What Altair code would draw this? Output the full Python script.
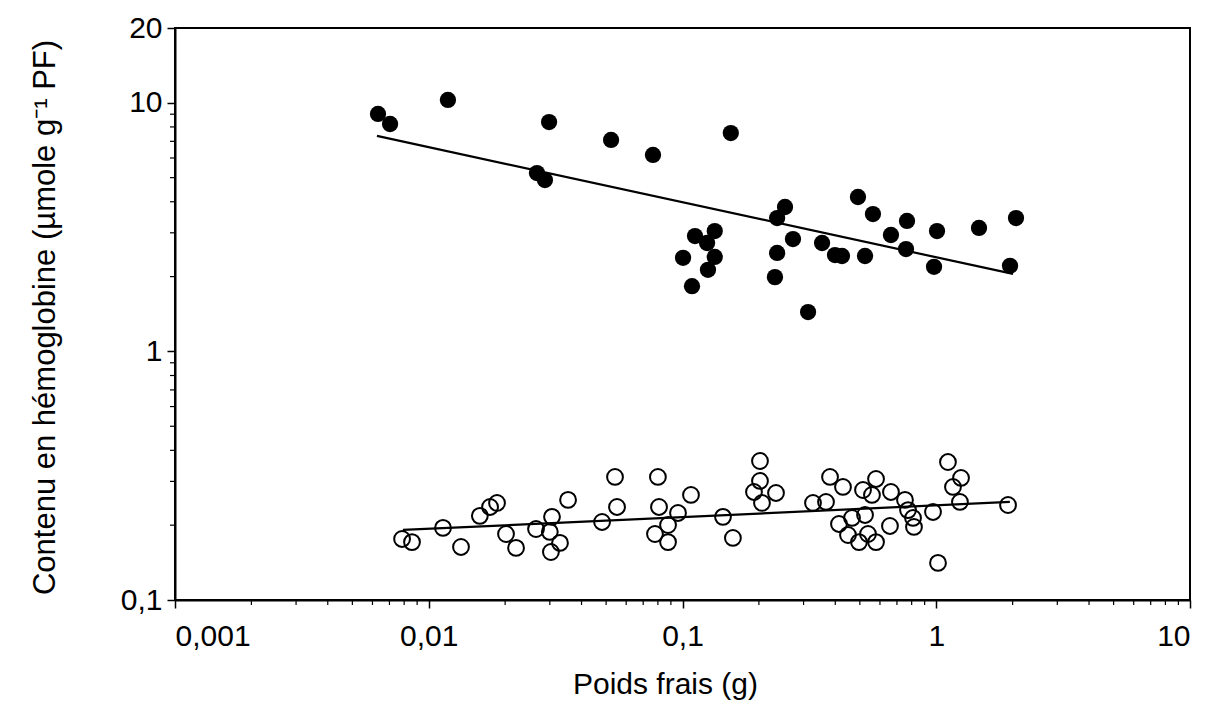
import altair as alt
import pandas as pd

# Filled circles (upper series)
filled_x = [0.00631, 0.00704, 0.0119, 0.0267, 0.0287, 0.0298, 0.0523, 0.0765, 0.155,
            0.1005, 0.109, 0.112, 0.125, 0.134, 0.134, 0.126, 0.2535, 0.236, 0.2725,
            0.236, 0.2314, 0.3125, 0.3548, 0.399, 0.425, 0.4915, 0.563, 0.524, 0.663,
            0.760, 0.767, 0.980, 1.007, 1.474, 1.953, 2.062]
filled_y = [9.02, 8.22, 10.27, 5.22, 4.89, 8.37, 7.09, 6.17, 7.56,
            2.38, 1.83, 2.91, 2.73, 3.05, 2.40, 2.13, 3.81, 3.44, 2.83,
            2.49, 1.99, 1.44, 2.73, 2.44, 2.42, 4.18, 3.57, 2.42, 2.94,
            2.58, 3.35, 2.19, 3.05, 3.14, 2.21, 3.44]

# Open circles (lower series)
open_x = [0.00785, 0.00859, 0.01138, 0.0134, 0.0159, 0.01744, 0.01858, 0.02016, 0.02208,
          0.02647, 0.0306, 0.0300, 0.0329, 0.0303, 0.0354, 0.0482, 0.0542, 0.0552,
          0.0800, 0.0808, 0.0779, 0.0877, 0.096, 0.0877, 0.108, 0.1444, 0.158,
          0.202, 0.202, 0.1913, 0.2336, 0.2057, 0.3268, 0.3677, 0.3814, 0.429,
          0.5145, 0.579, 0.558, 0.663, 0.753, 0.774, 0.524, 0.4656, 0.4137, 0.449,
          0.4961, 0.5383, 0.579, 0.657, 0.810, 0.817, 0.971, 1.112, 1.252, 1.164,
          1.24, 1.016, 1.918]
open_y = [0.176, 0.171, 0.195, 0.1634, 0.218, 0.2367, 0.2457, 0.1843, 0.162,
          0.193, 0.216, 0.188, 0.1697, 0.156, 0.2527, 0.206, 0.3126, 0.2367,
          0.3126, 0.2367, 0.1843, 0.171, 0.2239, 0.2003, 0.2646, 0.216, 0.1777,
          0.3624, 0.3012, 0.272, 0.2695, 0.2457, 0.2457, 0.248, 0.3126, 0.285,
          0.277, 0.3068, 0.2646, 0.272, 0.2527, 0.230, 0.2198, 0.2138, 0.2022, 0.1826,
          0.171, 0.1843, 0.171, 0.1985, 0.2138, 0.1967, 0.226, 0.359, 0.3097, 0.285,
          0.248, 0.141, 0.2411]

# Regression lines (end points)
fit_filled_x = [0.00625, 2.007]
fit_filled_y = [7.36, 2.05]
fit_open_x = [0.00791, 1.95]
fit_open_y = [0.1913, 0.248]

# Axis ticks
x_major = [0.001, 0.01, 0.1, 1, 10]
y_major = [0.1, 1, 10, 20]
x_minor = [m * 10 ** e for e in (-3, -2, -1, 0) for m in range(2, 10)]
y_minor = [m * 10 ** e for e in (-1, 0) for m in range(2, 10)]

FONT = "Liberation Sans"

filled_df = pd.DataFrame({"x": filled_x, "y": filled_y})
open_df = pd.DataFrame({"x": open_x, "y": open_y})
fit_df = pd.DataFrame({
    "x": fit_filled_x + fit_open_x,
    "y": fit_filled_y + fit_open_y,
    "g": ["filled", "filled", "open", "open"],
})
xminor_df = pd.DataFrame({"x": x_minor})
yminor_df = pd.DataFrame({"y": y_minor})

xscale = alt.Scale(type="log", domain=[0.001, 10], nice=False)
yscale = alt.Scale(type="log", domain=[0.1, 20], nice=False)

label_expr = "replace(toString(datum.value), '.', ',')"

xaxis = alt.Axis(values=x_major, labelExpr=label_expr, title="Poids frais (g)",
                 tickSize=8, labelPadding=13, grid=False,
                 titleX=490, titleY=84, titleAlign="center", titleBaseline="middle")
yaxis = alt.Axis(values=y_major, labelExpr=label_expr,
                 title="Contenu en hémoglobine (µmole g⁻¹ PF)",
                 tickSize=8, labelPadding=5, grid=False,
                 titleX=-130, titleY=289, titleAngle=-90,
                 titleAlign="center", titleBaseline="middle")

X = alt.X("x:Q", scale=xscale, axis=xaxis)
Y = alt.Y("y:Q", scale=yscale, axis=yaxis)

filled = alt.Chart(filled_df).mark_circle(size=265, color="black", opacity=1).encode(x=X, y=Y)
opened = alt.Chart(open_df).mark_point(shape="circle", filled=False, size=250,
                                        strokeWidth=2, color="black", opacity=1).encode(x=X, y=Y)
lines = alt.Chart(fit_df).mark_line(color="black", strokeWidth=2.2).encode(x=X, y=Y, detail="g:N")

xminor = alt.Chart(xminor_df).mark_rule(color="black", strokeWidth=1.2).encode(
    x=X, y=alt.value(572), y2=alt.value(577))
yminor = alt.Chart(yminor_df).mark_rule(color="black", strokeWidth=1.2).encode(
    y=Y, x=alt.value(-5), x2=alt.value(0))

chart = alt.layer(lines, opened, filled, xminor, yminor).properties(
    width=1015, height=572,
    autosize=alt.AutoSizeParams(type="none"),
    padding={"left": 167, "top": 20, "right": 18, "bottom": 101},
    background="white",
).configure_view(
    stroke="black", strokeWidth=2
).configure_axis(
    domainColor="black", domainWidth=2, tickColor="black", tickWidth=1.5,
    labelColor="black", titleColor="black",
    labelFont=FONT, titleFont=FONT, labelFontSize=30,
    titleFontWeight="normal",
).configure_axisX(
    titleFontSize=30
).configure_axisY(
    titleFontSize=31
)

chart.save("out.html", embed_options={"renderer": "svg", "actions": False})
